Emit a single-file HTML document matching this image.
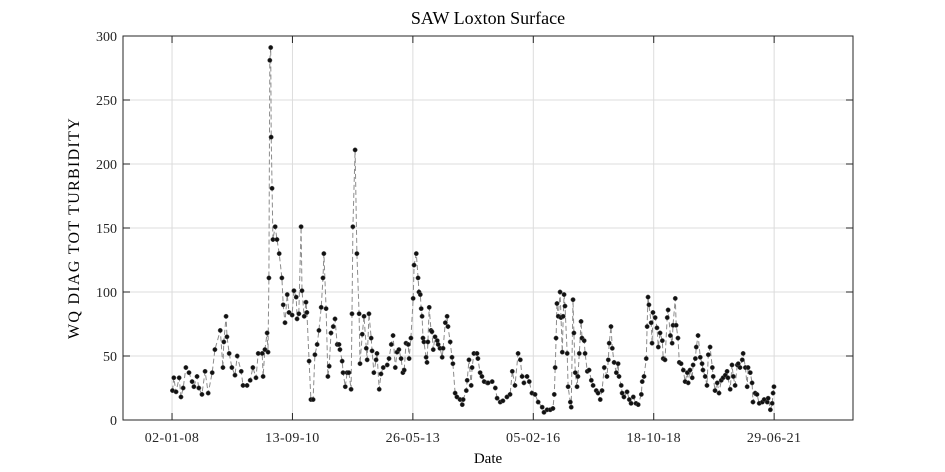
<!DOCTYPE html>
<html><head><meta charset="utf-8"><style>
body{margin:0;background:#fff;}
svg{display:block;font-family:"Liberation Serif",serif;}
</style></head><body>
<svg id="chart" width="945" height="472" viewBox="0 0 945 472" xmlns="http://www.w3.org/2000/svg">
<rect width="945" height="472" fill="#fff"/>
<text x="488" y="24" text-anchor="middle" font-size="18">SAW Loxton Surface</text>
<text x="488" y="463" text-anchor="middle" font-size="15">Date</text>
<text transform="translate(79,228) rotate(-90)" text-anchor="middle" font-size="16" letter-spacing="1.3">WQ DIAG TOT TURBIDITY</text>
<g id="grid"></g><g id="series"></g><g id="axes"></g>
</svg>
<script>
const years=[0.01,0.04,0.09,0.16,0.20,0.25,0.31,0.38,0.45,0.49,0.56,0.60,0.67,0.74,0.81,0.90,0.96,1.08,1.14,1.16,1.21,1.23,1.28,1.34,1.41,1.46,1.55,1.59,1.68,1.75,1.81,1.88,1.93,2.02,2.04,2.08,2.13,2.15,2.17,2.19,2.21,2.22,2.24,2.26,2.31,2.35,2.40,2.46,2.49,2.53,2.58,2.62,2.69,2.73,2.78,2.80,2.84,2.89,2.91,2.96,3.00,3.02,3.07,3.11,3.16,3.20,3.25,3.29,3.34,3.38,3.40,3.45,3.49,3.52,3.56,3.61,3.65,3.70,3.74,3.76,3.81,3.83,3.88,3.92,3.96,4.01,4.03,4.05,4.10,4.14,4.19,4.21,4.26,4.30,4.35,4.37,4.41,4.46,4.48,4.52,4.57,4.59,4.64,4.68,4.73,4.82,4.86,4.91,4.95,5.00,5.04,5.08,5.13,5.17,5.20,5.24,5.29,5.31,5.35,5.40,5.42,5.47,5.51,5.53,5.56,5.58,5.60,5.62,5.64,5.69,5.71,5.73,5.76,5.80,5.82,5.85,5.89,5.94,5.96,6.00,6.05,6.07,6.12,6.16,6.18,6.23,6.27,6.29,6.34,6.38,6.45,6.50,6.52,6.59,6.61,6.65,6.70,6.72,6.76,6.83,6.85,6.90,6.94,6.99,7.06,7.08,7.17,7.24,7.28,7.35,7.41,7.50,7.57,7.62,7.68,7.75,7.80,7.84,7.88,7.95,8.00,8.06,8.13,8.20,8.29,8.33,8.40,8.47,8.53,8.56,8.58,8.60,8.62,8.65,8.69,8.71,8.74,8.76,8.78,8.80,8.85,8.87,8.92,8.94,8.98,9.00,9.03,9.07,9.09,9.12,9.16,9.18,9.23,9.25,9.30,9.34,9.39,9.43,9.50,9.54,9.59,9.63,9.68,9.74,9.77,9.79,9.83,9.86,9.90,9.95,9.99,10.01,10.06,10.08,10.12,10.19,10.24,10.28,10.33,10.39,10.44,10.51,10.53,10.57,10.62,10.64,10.66,10.68,10.73,10.75,10.77,10.82,10.86,10.89,10.93,10.98,11.00,11.04,11.09,11.11,11.16,11.20,11.22,11.27,11.29,11.33,11.36,11.40,11.45,11.49,11.54,11.56,11.60,11.65,11.67,11.72,11.74,11.78,11.83,11.87,11.89,11.94,11.98,12.01,12.05,12.10,12.12,12.16,12.21,12.25,12.30,12.34,12.39,12.43,12.45,12.50,12.54,12.57,12.61,12.66,12.68,12.72,12.77,12.79,12.84,12.88,12.90,12.95,12.99,13.01,13.06,13.10,13.15,13.22,13.26,13.33,13.35,13.40,13.44,13.46,13.48];
const turbidity=[23,33,22,33,18,25,41,37,30,26,34,25,20,38,21,37,55,70,41,61,81,65,52,41,35,50,38,27,27,31,41,33,52,52,34,55,68,53,111,281,291,221,181,141,151,141,130,111,90,76,98,84,82,101,96,79,83,151,101,81,92,84,46,16,16,51,59,70,88,111,130,87,34,42,68,73,79,59,59,55,46,37,26,37,37,24,83,151,211,130,83,44,67,81,56,47,83,64,54,37,47,52,24,36,41,43,48,59,66,41,53,55,48,37,39,60,59,48,64,95,121,130,111,100,98,87,81,64,61,49,45,61,88,70,69,55,65,62,59,56,49,56,76,81,73,61,49,44,21,18,16,12,16,23,31,47,27,41,52,52,48,37,34,30,29,29,30,25,17,14,15,18,20,38,27,52,47,34,29,34,30,21,20,14,10,6,8,8,9,20,41,64,91,81,100,80,53,81,98,89,52,26,14,10,94,68,37,26,34,52,77,64,62,52,38,39,31,27,23,21,16,23,41,34,47,60,73,56,45,37,44,34,27,21,18,22,16,13,18,13,12,20,30,34,48,73,96,90,76,60,84,80,72,57,68,62,48,47,80,86,66,60,74,95,74,64,45,44,39,30,37,29,39,33,43,48,57,66,49,44,39,34,27,51,57,41,34,23,29,21,31,33,35,38,33,24,43,34,27,43,44,41,47,52,41,26,41,37,29,14,21,20,13,14,16,14,17,8,13,21,26];
const xTickYears=[0,2.6968,5.3936,8.0904,10.7872,13.484];
const xTickLabels=["02-01-08","13-09-10","26-05-13","05-02-16","18-10-18","29-06-21"];
const yTicks=[0,50,100,150,200,250,300];

const L=123,R=853,T=36,B=420,X0=-1.098,X1=15.25,Y0=0,Y1=300;
const sx=v=>L+(v-X0)/(X1-X0)*(R-L);
const sy=v=>B-(v-Y0)/(Y1-Y0)*(B-T);
const NS="http://www.w3.org/2000/svg";
function mk(tag,attrs,parent){const e=document.createElementNS(NS,tag);for(const k in attrs)e.setAttribute(k,attrs[k]);parent.appendChild(e);return e;}
const grid=document.getElementById('grid'),ser=document.getElementById('series'),ax=document.getElementById('axes');
xTickYears.forEach((v,i)=>{
  const g=mk('line',{x1:sx(v),x2:sx(v),y1:T,y2:B,stroke:'#dcdcdc','stroke-width':1},grid);
  
  
  const t1=mk('line',{x1:sx(v),x2:sx(v),y1:B,y2:B-7,stroke:'#262626','stroke-width':1},ax);
  
  
  const t2=mk('line',{x1:sx(v),x2:sx(v),y1:T,y2:T+7,stroke:'#262626','stroke-width':1},ax);
  
  
  const tx=mk('text',{x:sx(v),y:B+22,'text-anchor':'middle','font-size':14,'letter-spacing':0.4,fill:'#262626'},ax);
  tx.textContent=xTickLabels[i];
  
  
});
yTicks.forEach(v=>{
  const g=mk('line',{x1:L,x2:R,y1:sy(v),y2:sy(v),stroke:'#dcdcdc','stroke-width':1},grid);
  
  
  const t1=mk('line',{x1:L,x2:L+7,y1:sy(v),y2:sy(v),stroke:'#262626','stroke-width':1},ax);
  
  
  const t2=mk('line',{x1:R,x2:R-7,y1:sy(v),y2:sy(v),stroke:'#262626','stroke-width':1},ax);
  
  
  const tx=mk('text',{x:L-6,y:sy(v)+5,'text-anchor':'end','font-size':14,fill:'#262626'},ax);
  tx.textContent=v;
  
  
});
const box=mk('rect',{x:L,y:T,width:R-L,height:B-T,fill:'none',stroke:'#262626','stroke-width':1},ax);


const pts=years.map((y,i)=>sx(y).toFixed(1)+','+sy(turbidity[i]).toFixed(1)).join(' ');
const line=mk('polyline',{points:pts,fill:'none',stroke:'#8c8c8c','stroke-width':1,'stroke-dasharray':'5,3'},ser);


years.forEach((y,i)=>{
  const c=mk('circle',{cx:sx(y),cy:sy(turbidity[i]),r:2.2,fill:'#111',stroke:'#555','stroke-width':0.5},ser);
  
  
});
</script>
</body></html>
